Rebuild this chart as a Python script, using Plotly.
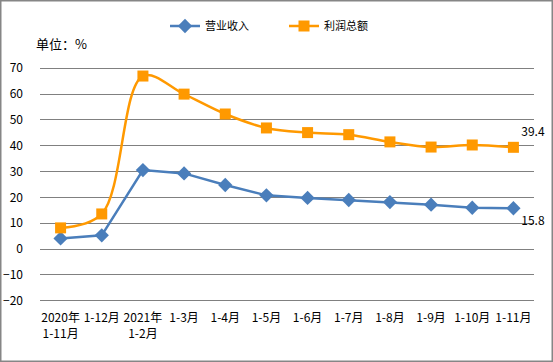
import plotly.graph_objects as go

categories = ["2020年<br>1-11月", "1-12月", "2021年<br>1-2月", "1-3月", "1-4月", "1-5月",
              "1-6月", "1-7月", "1-8月", "1-9月", "1-10月", "1-11月"]
revenue = [4.1, 5.3, 30.6, 29.3, 24.8, 20.8, 19.8, 19.0, 18.2, 17.2, 16.0, 15.8]
profit = [8.2, 13.6, 67.0, 60.0, 52.3, 46.9, 45.1, 44.3, 41.5, 39.5, 40.3, 39.4]
y_ticks = list(range(-20, 71, 10))

FONT = "Noto Sans CJK SC, sans-serif"

def last_label(vals):
    return [""] * (len(vals) - 1) + [f"{vals[-1]}"]

fig = go.Figure()
fig.add_trace(go.Scatter(
    x=categories, y=revenue, name="营业收入", mode="lines+markers+text",
    line=dict(color="#4a7ebb", width=2.5),
    marker=dict(symbol="diamond", size=11, color="#4a7ebb"),
    text=last_label(revenue), textposition="bottom right", cliponaxis=False,
    textfont=dict(size=12, color="black", family=FONT),
))
fig.add_trace(go.Scatter(
    x=categories, y=profit, name="利润总额", mode="lines+markers+text",
    line=dict(color="#ff9900", width=2.5, shape="spline", smoothing=1.0),
    marker=dict(symbol="square", size=11, color="#ff9900"),
    text=last_label(profit), textposition="top right", cliponaxis=False,
    textfont=dict(size=12, color="black", family=FONT),
))

L, R, T, B = 40, 19, 67, 60
W, H = 553, 362
pw, ph = W - L - R, H - T - B

fig.update_layout(
    width=W, height=H,
    margin=dict(l=L, r=R, t=T, b=B, autoexpand=False),
    paper_bgcolor="white", plot_bgcolor="white",
    font=dict(family=FONT, size=12, color="black"),
    showlegend=True,
    legend=dict(orientation="h", x=(284 - L) / pw, xanchor="center",
                y=(H - B - 26) / ph, yanchor="middle",
                font=dict(size=11), entrywidth=74, itemwidth=30,
                bgcolor="rgba(0,0,0,0)"),
    xaxis=dict(range=[-0.5, 11.5], showgrid=False, showline=False, zeroline=False,
               ticks="", tickfont=dict(size=12), tickangle=0, fixedrange=True,
               ticklabelstandoff=7, automargin=False),
    yaxis=dict(range=[-20.5, 70.5], tickvals=y_ticks, showgrid=True,
               gridcolor="#808080", gridwidth=1, zeroline=True,
               zerolinecolor="#808080", zerolinewidth=1, showline=False,
               ticks="", ticklabelstandoff=16, tickfont=dict(size=12),
               fixedrange=True, automargin=False),
    annotations=[dict(text="单位：%", xref="paper", yref="paper",
                      x=(34 - L) / pw, y=(H - B - 44) / ph,
                      xanchor="left", yanchor="middle", showarrow=False,
                      font=dict(size=13, family=FONT, color="black"))],
    shapes=[dict(type="rect", xref="paper", yref="paper",
                 x0=(0.75 - L) / pw, x1=(W - 0.75 - L) / pw,
                 y0=-(B - 0.75) / ph, y1=1 + (T - 0.75) / ph,
                 line=dict(color="#868686", width=1.5),
                 fillcolor="rgba(0,0,0,0)", layer="above")],
)

fig.write_html("out.html", config={"displayModeBar": False},
               post_script="document.body.style.margin='0';document.body.style.overflow='hidden';")
